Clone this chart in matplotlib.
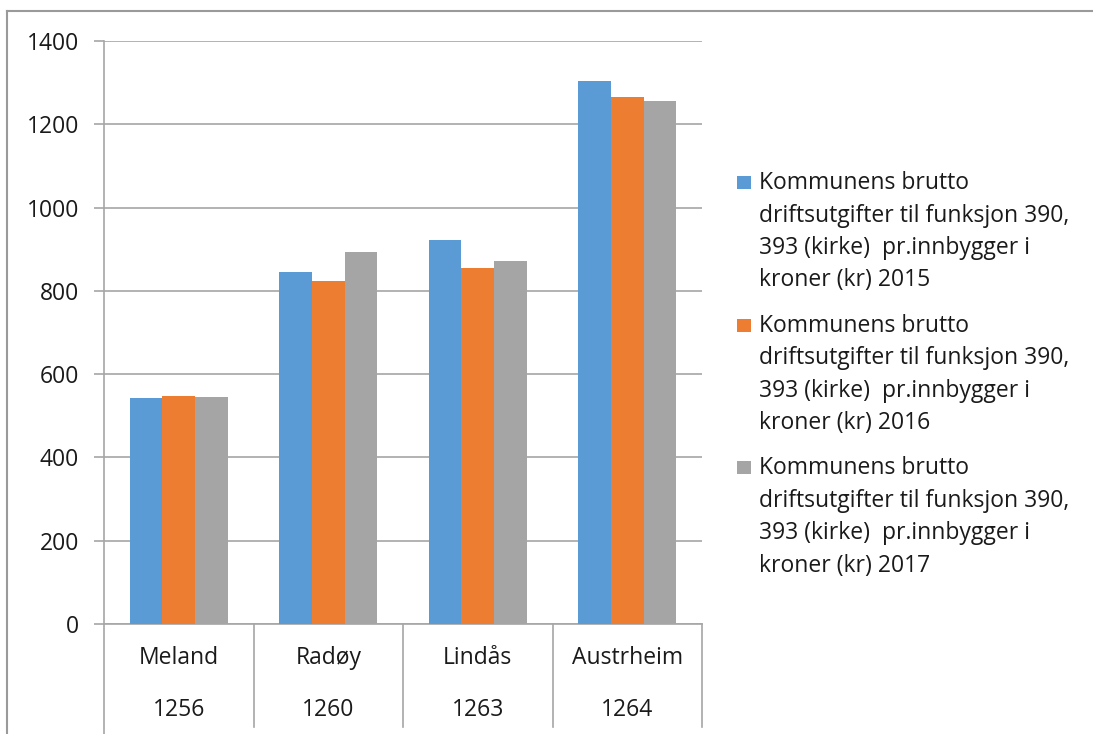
import matplotlib
matplotlib.use("Agg")
import matplotlib.pyplot as plt
import matplotlib.transforms as mtransforms
from matplotlib.patches import Rectangle
import numpy as np

plt.rcParams['font.family'] = ['Open Sans', 'DejaVu Sans']

categories = ["Meland", "Radøy", "Lindås", "Austrheim"]
codes = ["1256", "1260", "1263", "1264"]
series_labels = [
    "Kommunens brutto\ndriftsutgifter til funksjon 390,\n393 (kirke)  pr.innbygger i\nkroner (kr) 2015",
    "Kommunens brutto\ndriftsutgifter til funksjon 390,\n393 (kirke)  pr.innbygger i\nkroner (kr) 2016",
    "Kommunens brutto\ndriftsutgifter til funksjon 390,\n393 (kirke)  pr.innbygger i\nkroner (kr) 2017",
]
values_2015 = [542, 846, 923, 1304]
values_2016 = [548, 824, 855, 1266]
values_2017 = [544, 893, 871, 1255]
series_values = [values_2015, values_2016, values_2017]
colors = ["#5B9BD5", "#ED7D31", "#A5A5A5"]
yticks = [0, 200, 400, 600, 800, 1000, 1200, 1400]

W, H = 1093, 734
fig = plt.figure(figsize=(W / 100, H / 100), dpi=100)
ax = fig.add_axes([104 / W, 1 - 624 / H, (702 - 104) / W, (624 - 41) / H])

grid_c = "#A6A6A6"
txt_c = "#1A1A1A"
fs = 16.5

x = np.arange(len(categories))
bw = 0.219
for i, (vals, col) in enumerate(zip(series_values, colors)):
    ax.bar(x + (i - 1) * bw, vals, width=bw, color=col, zorder=3, linewidth=0)

ax.set_xlim(-0.5, len(categories) - 0.5)
ax.set_ylim(0, 1400)
ax.set_yticks(yticks)
ax.set_yticklabels([str(v) for v in yticks], fontsize=fs, color=txt_c)
ax.yaxis.grid(True, color=grid_c, linewidth=1.2, zorder=0)
ax.tick_params(axis='y', length=7, width=1.2, color=grid_c, pad=11)
ax.set_xticks([])
for s in ["top", "right"]:
    ax.spines[s].set_visible(False)
for s in ["left", "bottom"]:
    ax.spines[s].set_color(grid_c)
    ax.spines[s].set_linewidth(1.2)

# category dividers and labels
trans = mtransforms.blended_transform_factory(ax.transData, ax.transAxes)
ax_h = 624 - 41
for k in range(len(categories) + 1):
    xb = k - 0.5
    bottom = -(734 - 624) / ax_h if k == 0 else -(727 - 624) / ax_h
    ax.plot([xb, xb], [0, bottom], transform=trans, color=grid_c, lw=1.2, clip_on=False)
for k, (name, code) in enumerate(zip(categories, codes)):
    ax.text(k, -(658 - 624) / ax_h, name, transform=trans, ha='center', va='center',
            fontsize=fs, color=txt_c)
    ax.text(k, -(710 - 624) / ax_h, code, transform=trans, ha='center', va='center',
            fontsize=fs, color=txt_c)

# outer frame (left and top)
fig.add_artist(plt.Line2D([7 / W, 7 / W], [0, 1 - 11 / H], transform=fig.transFigure,
                          color="#9A9A9A", lw=1.5))
fig.add_artist(plt.Line2D([7 / W, 1], [1 - 11 / H, 1 - 11 / H], transform=fig.transFigure,
                          color="#9A9A9A", lw=1.5))

# legend (manual, Excel style)
first_base = 189
entry_step = 142.7
line_step = 32.5
for i, (lab, col) in enumerate(zip(series_labels, colors)):
    yb = first_base + i * entry_step
    fig.add_artist(Rectangle((737 / W, 1 - (yb) / H), 14 / W, 13 / H,
                             transform=fig.transFigure, color=col, lw=0))
    for j, line in enumerate(lab.split("\n")):
        fig.text(759 / W, 1 - (yb + j * line_step) / H, line, ha='left', va='baseline',
                 fontsize=fs, color=txt_c)

fig.savefig("out.png", dpi=100)
